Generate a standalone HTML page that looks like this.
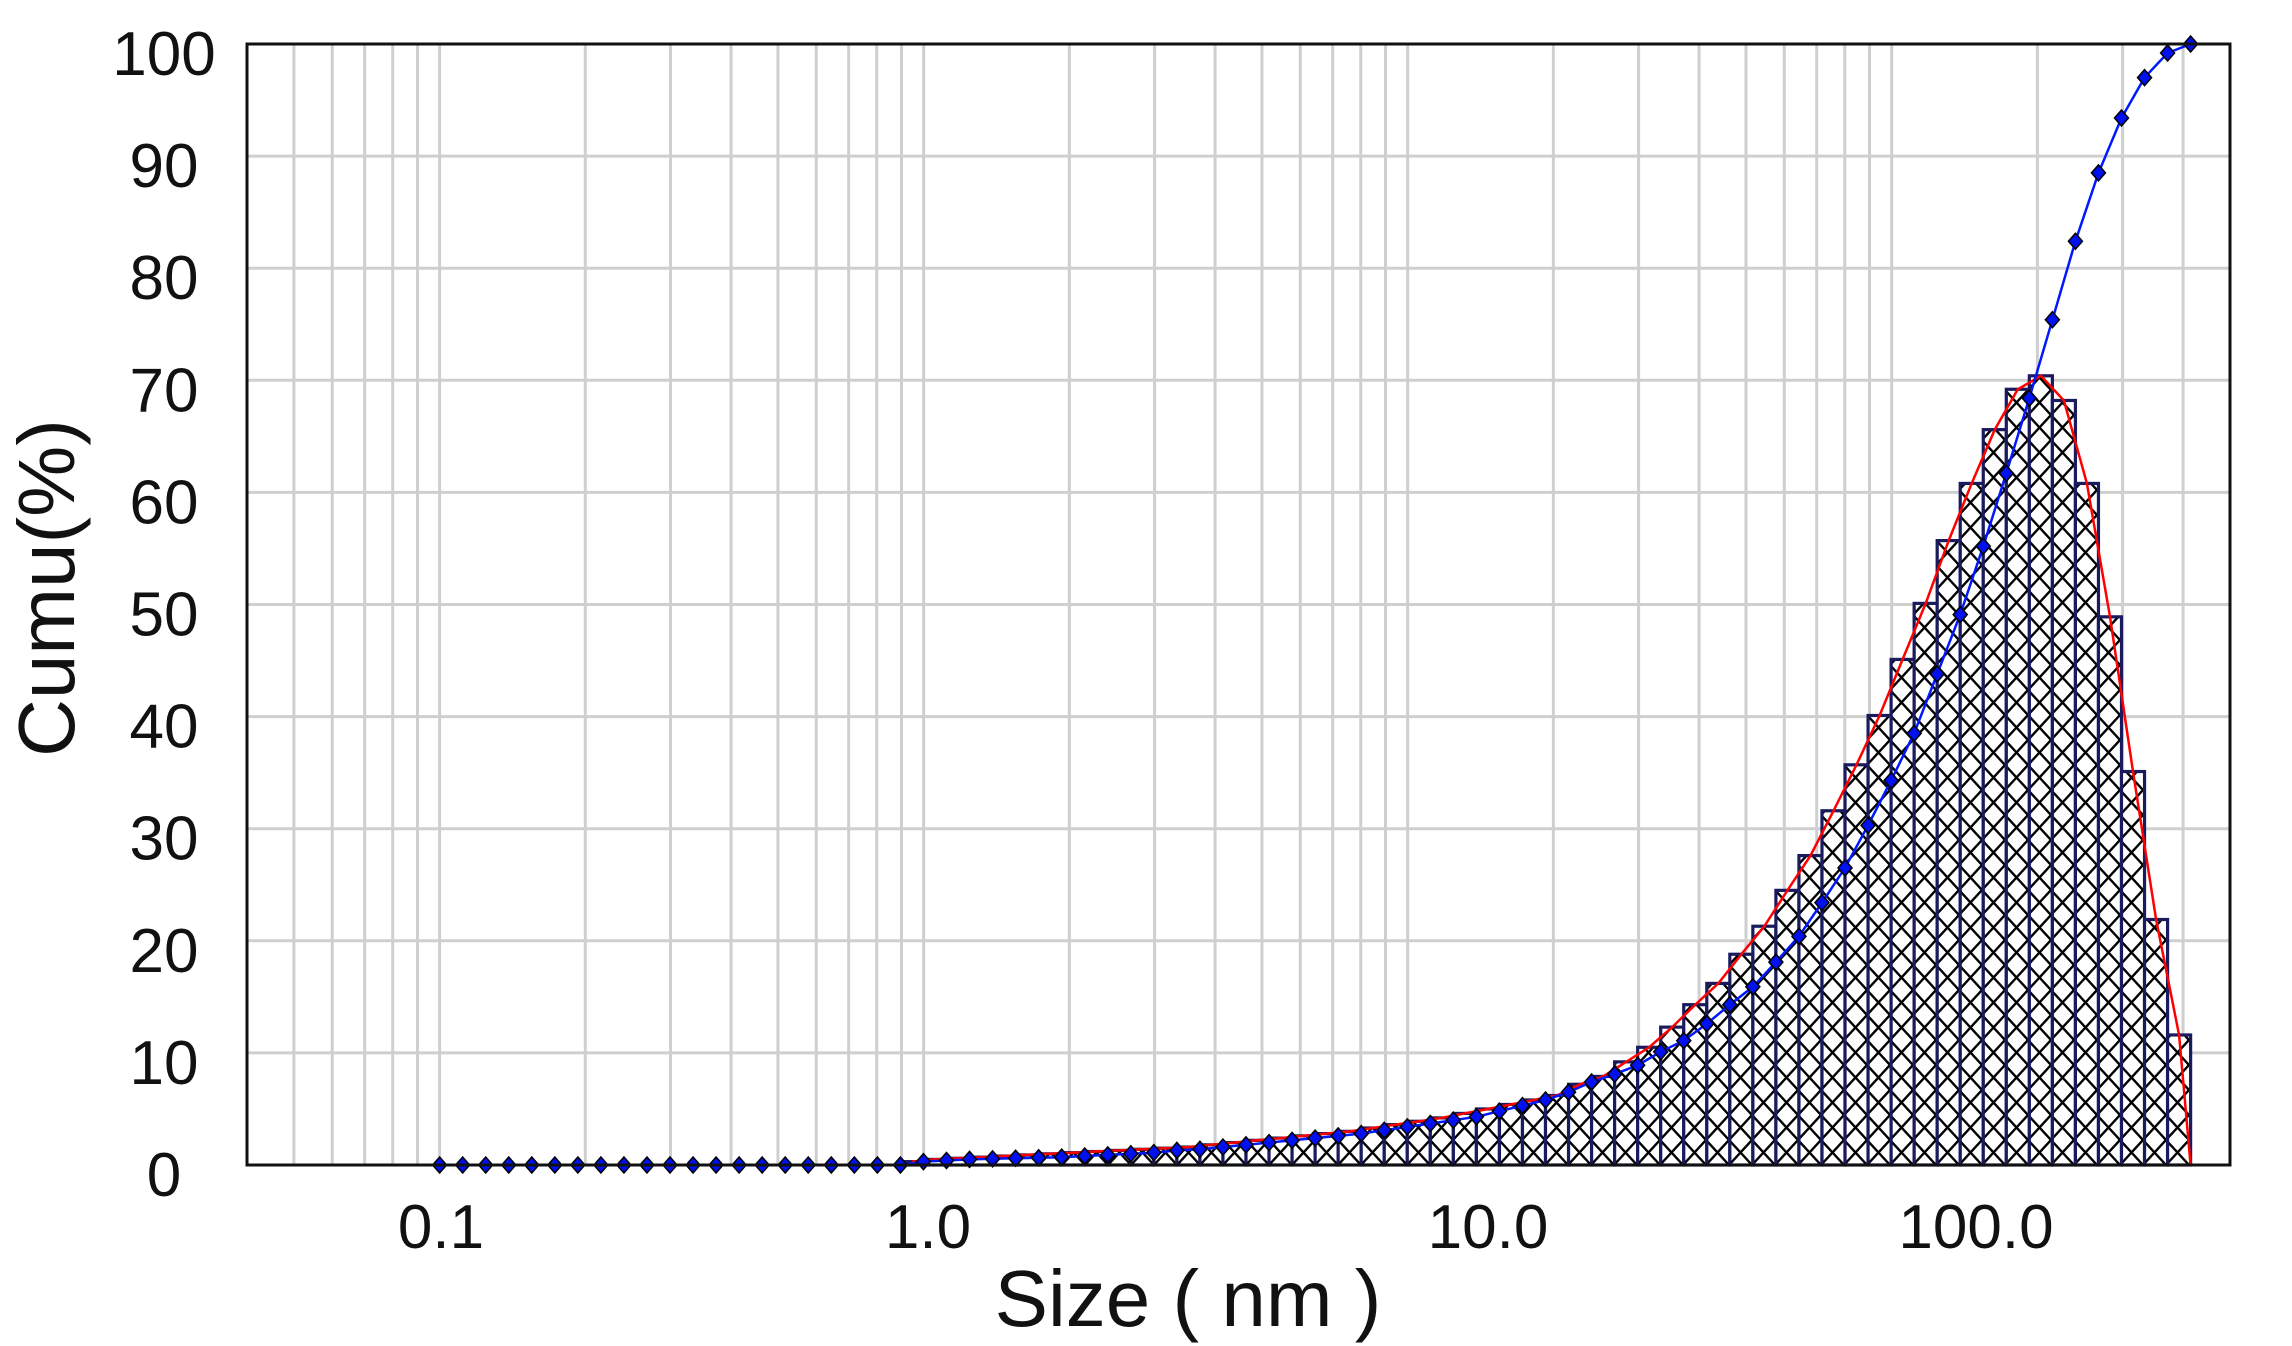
<!DOCTYPE html>
<html><head><meta charset="utf-8"><style>
html,body{margin:0;padding:0;background:#fff;}
svg{display:block;font-family:"Liberation Sans",sans-serif;}
</style></head><body>
<svg id="chart" width="2292" height="1346" viewBox="0 0 2292 1346" xmlns="http://www.w3.org/2000/svg">
<defs>
<pattern id="hatch" patternUnits="userSpaceOnUse" width="23" height="25" x="441" y="1165">
<rect width="23" height="25" fill="#fff"/>
<path d="M0,0 L23,25 M23,0 L0,25" stroke="#000" stroke-width="2.4"/>
</pattern>
</defs>
<g id="grid"></g>
<g id="bars"></g>
<g id="lines"></g>
<rect x="247" y="44" width="1983" height="1121" fill="none" stroke="#111" stroke-width="3"/>
<g id="labels" font-size="62" fill="#111"></g>
<text x="1188" y="1326" font-size="80" text-anchor="middle" fill="#111">Size ( nm )</text>
<text transform="translate(74,588) rotate(-90)" font-size="80" text-anchor="middle" fill="#111">Cumu(%)</text>
</svg>
<script>
const yTicks = [0,10,20,30,40,50,60,70,80,90,100];
const xTickValues = [0.1, 1, 10, 100];
const xTickLabels = ["0.1","1.0","10.0","100.0"];
const xTickLabelPos = [441, 928, 1488, 1976];
const binStart = 0.1;
const binRatioLog = 0.0476;
const cumu = [0,0,0,0,0,0,0,0,0,0,0,0,0,0,0,0,0,0,0,0,0,
 0.3,0.4,0.5,0.55,0.6,0.65,0.7,0.8,0.9,1.0,1.1,1.3,1.4,1.6,1.8,2.0,2.2,2.4,2.6,2.8,3.1,3.4,3.7,4.0,4.3,4.8,5.3,5.8,
 6.5,7.4,8.1,8.9,10.1,11.1,12.6,14.3,15.9,18.1,20.4,23.4,26.5,30.3,34.3,38.5,43.8,49.1,55.2,61.7,68.4,75.4,82.4,88.5,93.4,97.0,99.2,100];
const freq = [0,0,0,0,0,0,0,0,0,0,0,0,0,0,0,0,0,0,0,0,0,
 0.3,0.5,0.6,0.7,0.8,0.9,1.0,1.1,1.2,1.3,1.4,1.5,1.6,1.8,2.0,2.2,2.4,2.6,2.8,3.0,3.3,3.6,3.9,4.2,4.6,5.0,5.4,5.8,
 6.2,7.2,7.9,9.2,10.5,12.3,14.3,16.2,18.8,21.3,24.5,27.6,31.6,35.7,40.1,45.1,50.1,55.7,60.8,65.6,69.2,70.4,68.2,60.8,48.9,35.1,21.9,11.6];

const L=247,R=2230,T=44,B=1165;
const lmin=Math.log10(0.04), lmax=Math.log10(500);
function xs(v){return L+(Math.log10(v)-lmin)/(lmax-lmin)*(R-L);}
function ys(v){return B-v/100*(B-T);}
function size(k){return binStart*Math.pow(10,k*binRatioLog);}
const NS="http://www.w3.org/2000/svg";
function mk(tag,attrs,parent){const e=document.createElementNS(NS,tag);for(const k in attrs)e.setAttribute(k,attrs[k]);parent.appendChild(e);return e;}

const grid=document.getElementById('grid');
for(let dec=0.01;dec<=100;dec*=10){
  for(let m=1;m<=9;m++){
    const v=dec*m; if(v<=0.04001||v>=499) continue;
    const l=mk('line',{x1:xs(v),x2:xs(v),y1:T,y2:B,stroke:'#cfcfcf','stroke-width':3},grid);
    
    
  }
}
yTicks.forEach(t=>{ if(t===0||t===100) return;
  const l=mk('line',{x1:L,x2:R,y1:ys(t),y2:ys(t),stroke:'#cfcfcf','stroke-width':3},grid);
  
  
});

const bars=document.getElementById('bars');
for(let k=1;k<freq.length;k++){
  if(freq[k]<=0) continue;
  const x0=xs(size(k-1)), x1=xs(size(k));
  const r=mk('rect',{x:x0,y:ys(freq[k]),width:x1-x0,height:B-ys(freq[k]),fill:'url(#hatch)',stroke:'#1a1a5e','stroke-width':3.2},bars);
  
  
}

const lines=document.getElementById('lines');
let rp=[];
for(let k=1;k<freq.length;k++){ if(freq[k]<=0) continue;
  const c=Math.sqrt(size(k-1)*size(k)); rp.push(xs(c).toFixed(1)+','+ys(freq[k]).toFixed(1)); }
rp.push(xs(size(freq.length-1)).toFixed(1)+','+ys(0));
const red=mk('polyline',{points:rp.join(' '),fill:'none',stroke:'#f00','stroke-width':2.5},lines);



let bp=cumu.map((v,k)=>xs(size(k)).toFixed(1)+','+ys(v).toFixed(1));
const blue=mk('polyline',{points:bp.join(' '),fill:'none',stroke:'#0018ff','stroke-width':2.5},lines);


cumu.forEach((v,k)=>{
  const cx=xs(size(k)), cy=ys(v);
  const d=mk('path',{d:`M${cx},${cy-8} L${cx+7},${cy} L${cx},${cy+8} L${cx-7},${cy} Z`,fill:'#0010ee',stroke:'#000','stroke-width':1.5},lines);
  
  
});

const lab=document.getElementById('labels');
yTicks.forEach(t=>{
  const e=mk('text',{x:164,y:ys(t)+31,'text-anchor':'middle'},lab);
  e.textContent=String(t);
  
  
});
xTickValues.forEach((v,i)=>{
  const e=mk('text',{x:xTickLabelPos[i],y:1248,'text-anchor':'middle'},lab);
  e.textContent=xTickLabels[i];
  
  
});
</script>
</body></html>
